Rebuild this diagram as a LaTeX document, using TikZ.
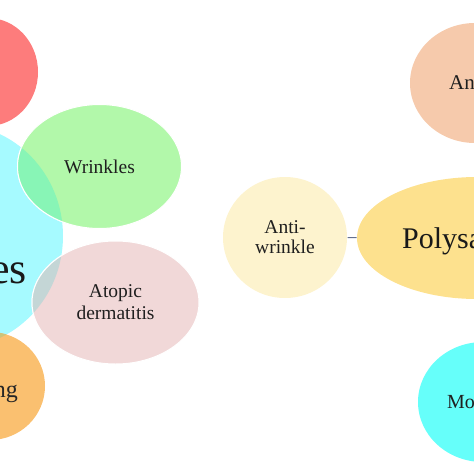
\documentclass[tikz,border=0pt]{standalone}
\usepackage{fontspec}
\setmainfont{Liberation Serif}
\usetikzlibrary{shapes.geometric}

\definecolor{skincyan}{RGB}{166,250,255}
\definecolor{blobred}{RGB}{253,124,124}
\definecolor{wrinklegreen}{RGB}{178,248,170}
\definecolor{mixgreen}{RGB}{136,245,182}
\definecolor{atopicpink}{RGB}{241,216,216}
\definecolor{mixpink}{RGB}{196,214,214}
\definecolor{agingorange}{RGB}{250,192,112}
\definecolor{mixorange}{RGB}{204,196,122}
\definecolor{antiyellow}{RGB}{253,243,206}
\definecolor{polyyellow}{RGB}{253,225,142}
\definecolor{peach}{RGB}{246,202,172}
\definecolor{moistcyan}{RGB}{102,255,250}
\definecolor{linkgray}{RGB}{100,112,140}

\tikzset{
  blob/.style={ellipse, inner sep=0pt, draw=white, line width=1pt},
  blobtext/.style={font=\fontsize{19.5}{22}\selectfont, align=center, text=black!88}
}

\begin{document}
\begin{tikzpicture}[x=1pt,y=1pt,yscale=-1]
\useasboundingbox (0,0) rectangle (474,474);
\clip (0,0) rectangle (474,474);

%Shape: Ellipse, left hub (cut off)
\node [blob, draw=none, fill=skincyan, minimum width=216pt, minimum height=224pt] (skin) at (-45,236) {};
%Shape: Ellipse
\node [blob, draw=none, fill=blobred, minimum width=100pt, minimum height=108pt] (redblob) at (-12,72) {};
%Shape: Ellipse
\node [blob, fill=wrinklegreen, minimum width=164pt, minimum height=124pt, blobtext] (wrinkles) at (99.5,166.5) {Wrinkles};
%Shape: Ellipse
\node [blob, fill=atopicpink, minimum width=167pt, minimum height=123pt, blobtext] (atopic) at (115.5,302.5) {Atopic\\dermatitis};
%Shape: Ellipse
\node [blob, draw=none, fill=agingorange, minimum width=110pt, minimum height=108pt] (aging) at (-10,386) {};

% overlaps with the hub
\begin{scope}
  \clip (skin.center) ellipse [x radius=108, y radius=112];
  \filldraw [fill=mixgreen, draw=white, line width=1pt] (wrinkles.center) ellipse [x radius=82, y radius=62];
  \filldraw [fill=mixpink, draw=white, line width=1pt] (atopic.center) ellipse [x radius=83.5, y radius=61.5];
  \fill [mixorange] (aging.center) ellipse [x radius=55, y radius=54];
\end{scope}

%Shape: Ellipse
\node [blob, draw=none, fill=antiyellow, minimum width=124pt, minimum height=121pt, blobtext] (antiwrinkle) at (285,237.5) {Anti-\\[-2pt]wrinkle};
%Shape: Ellipse
\node [blob, draw=none, fill=polyyellow, minimum width=240pt, minimum height=122pt] (poly) at (477,238) {};
%Shape: Ellipse
\node [blob, draw=none, fill=peach, minimum width=130pt, minimum height=120pt] (peachblob) at (475,83) {};
%Shape: Ellipse
\node [blob, draw=none, fill=moistcyan, minimum width=130pt, minimum height=120pt] (moist) at (483,402) {};

%Straight Lines
\draw [linkgray, line width=1pt] (antiwrinkle) -- (poly);

% Text Node
\node [anchor=base east, inner sep=0pt, font=\fontsize{44}{44}\selectfont, text=black!90] (skintext) at (27,283) {es};
% Text Node
\node [anchor=base east, inner sep=0pt, font=\fontsize{24}{24}\selectfont, text=black!85] (agingtext) at (18,397) {ng};
% Text Node
\node [anchor=base west, inner sep=0pt, font=\fontsize{30}{30}\selectfont, text=black!90] (polytext) at (402,248) {Polysa};
% Text Node
\node [anchor=base west, inner sep=0pt, font=\fontsize{21}{21}\selectfont, text=black!88] (peachtext) at (449,89) {An};
% Text Node
\node [anchor=base west, inner sep=0pt, font=\fontsize{20}{20}\selectfont, text=black!88] (moisttext) at (447,408) {Mo};

\end{tikzpicture}
\end{document}
